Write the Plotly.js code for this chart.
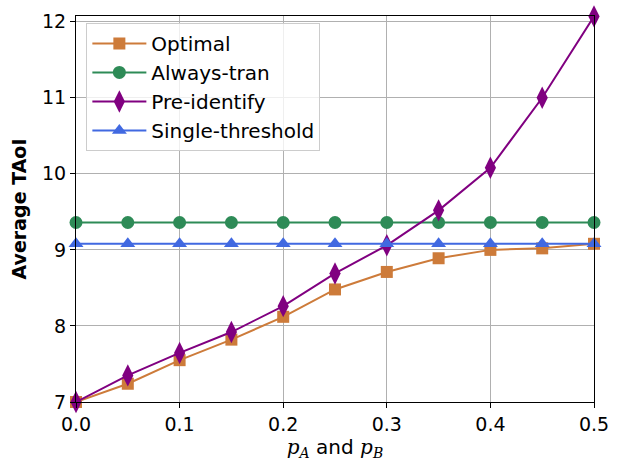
<!DOCTYPE html>
<html>
<head>
<meta charset="utf-8">
<script src="https://cdn.plot.ly/plotly-3.0.1.min.js"></script>
<style>html,body{margin:0;padding:0;background:#fff;}#chart{width:618px;height:464px;}</style>
</head>
<body>
<div id="chart"></div>
<script>
const xValues = [0.0, 0.05, 0.1, 0.15, 0.2, 0.25, 0.3, 0.35, 0.4, 0.45, 0.5];
const optimal = [7.0, 7.24, 7.55, 7.82, 8.12, 8.48, 8.71, 8.89, 9.0, 9.02, 9.08];
const alwaysTran = [9.36, 9.36, 9.36, 9.36, 9.36, 9.36, 9.36, 9.36, 9.36, 9.36, 9.36];
const preIdentify = [7.0, 7.35, 7.645, 7.92, 8.26, 8.69, 9.06, 9.52, 10.08, 11.0, 12.07];
const singleThreshold = [9.08, 9.08, 9.08, 9.08, 9.08, 9.08, 9.08, 9.08, 9.08, 9.08, 9.08];
const seriesNames = ['Optimal', 'Always-tran', 'Pre-identify', 'Single-threshold'];
const xTicks = [0.0, 0.1, 0.2, 0.3, 0.4, 0.5];
const yTicks = [7, 8, 9, 10, 11, 12];

const font = 'DejaVu Sans, sans-serif';
function tr(y, name, color, symbol, size) {
  return {
    x: xValues, y: y, name: name, type: 'scatter', mode: 'lines+markers',
    line: {color: color, width: 2},
    marker: {color: color, symbol: symbol, size: size},
    cliponaxis: false
  };
}
const data = [
  tr(optimal, seriesNames[0], '#CD7B3A', 'square', 12),
  tr(alwaysTran, seriesNames[1], '#2E8B57', 'circle', 13),
  tr(preIdentify, seriesNames[2], '#800080', 'diamond-tall', 16),
  tr(singleThreshold, seriesNames[3], '#4169E1', 'triangle-up', 13)
];
const axisCommon = {
  showline: true, linecolor: '#000', linewidth: 1, mirror: true,
  ticks: 'outside', ticklen: 5, tickwidth: 1, tickcolor: '#000',
  showgrid: true, gridcolor: '#b0b0b0', gridwidth: 1,
  zeroline: false, tickfont: {family: font, size: 19, color: '#000'}
};
const layout = {
  width: 618, height: 464,
  margin: {l: 76, r: 24, t: 16, b: 62},
  paper_bgcolor: '#fff', plot_bgcolor: '#fff',
  font: {family: font, color: '#000'},
  xaxis: Object.assign({}, axisCommon, {
    range: [0, 0.5], tickvals: xTicks, ticktext: xTicks.map(v => v.toFixed(1)),
    title: {text: "<span style=\"font-family:'DejaVu Serif'\"><i>p<sub>A</sub></i></span> and <span style=\"font-family:'DejaVu Serif'\"><i>p<sub>B</sub></i></span>", font: {family: font, size: 20, color: '#000'}, standoff: 6}
  }),
  yaxis: Object.assign({}, axisCommon, {
    range: [7, 12.075], tickvals: yTicks, ticktext: yTicks.map(String),
    title: {text: '<b>Average TAoI</b>', font: {family: font, size: 19, color: '#000'}, standoff: 10}
  }),
  legend: {
    x: 0.02, y: 0.982, xanchor: 'left', yanchor: 'top',
    bgcolor: 'rgba(255,255,255,0.8)', bordercolor: '#cccccc', borderwidth: 1,
    font: {family: font, size: 20, color: '#000'}, itemwidth: 54,
    tracegroupgap: 0
  },
  showlegend: true
};
Plotly.newPlot('chart', data, layout, {displayModeBar: false, staticPlot: true});
</script>
</body>
</html>
